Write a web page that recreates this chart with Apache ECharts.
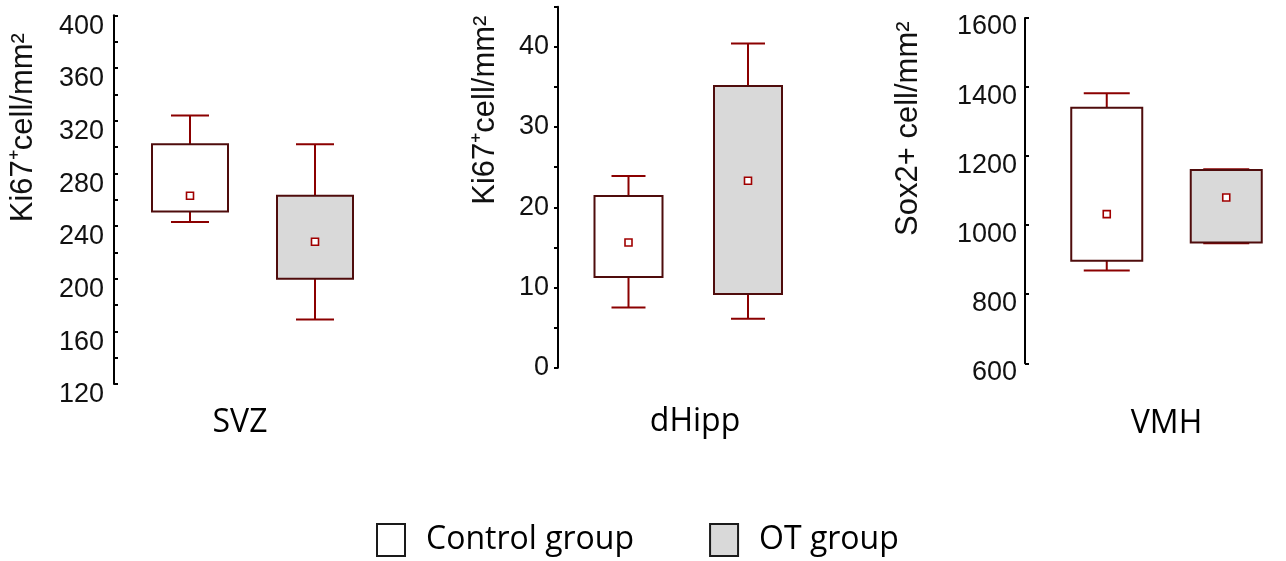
<!DOCTYPE html>
<html>
<head>
<meta charset="utf-8">
<script src="https://cdn.jsdelivr.net/npm/echarts@6/dist/echarts.min.js"></script>
<style>
html,body{margin:0;padding:0;background:#fff;}
#chart{width:1286px;height:561px;}
</style>
</head>
<body>
<div id="chart"></div>
<script>
// ---- data ----
const regions = ['SVZ', 'dHipp', 'VMH'];
const groups = ['Control group', 'OT group'];
const yNames = ['Ki67\u207Acell/mm\u00B2', 'Ki67\u207Acell/mm\u00B2', 'Sox2+ cell/mm\u00B2'];

// Control group: lower whisker, box bottom, box top, upper whisker, mean
const controlLow     = [243, 7.5, 869];
const controlBoxLow  = [251, 11.3, 897];
const controlBoxHigh = [302, 21.4, 1340];
const controlHigh    = [324, 23.9, 1382];
const controlMean    = [263, 15.6, 1032];

// OT group
const otLow     = [169, 6.1, 948];
const otBoxLow  = [200, 9.2, 950];
const otBoxHigh = [263, 35.1, 1160];
const otHigh    = [302, 40.4, 1162];
const otMean    = [228, 23.3, 1080];

// axis ranges
const yMin = [120, 0, 600];
const yMax = [400, 45, 1600];
const yTickStep = [20, 5, 200];
const yLabelStep = [40, 10, 200];

// ---- layout (pixels) ----
const grids = [
  {left: 127.5, top: 15.3, width: 250, height: 368.7},
  {left: 568.75, top: 6.7, width: 239, height: 361},
  {left: 1047, top: 18, width: 256, height: 345.3}
];
const axisOffset = [13.5, 10.75, 22];
const tickInside = [true, false, true];
const labelShift = [22, 0, 18];
const labelMargin = [10, 9, 8];
const nameGapY = [75, 57, 101];
const namePadY = [[0, 0, 0, 144], [0, 0, 0, 154], [0, 0, 0, 124]];
const nameGapX = [23, 38, 45];
const namePadX = [[0, 25, 0, 0], [0, 0, 0, 13.5], [0, 0, 0, 0]];
const boxW = [76, 68, 71];
const capW = [38, 34, 46];

const WHISKER = '#8b0000';
const BORDER = '#4f0c0c';
const MEANC = '#a00000';
const fills = ['#ffffff', '#d9d9d9'];

function makeRender(panel, fill) {
  return function (params, api) {
    const x = api.value(0);
    const lo = api.coord([x, api.value(1)]);
    const bLo = api.coord([x, api.value(2)]);
    const bHi = api.coord([x, api.value(3)]);
    const hi = api.coord([x, api.value(4)]);
    const mean = api.coord([x, api.value(5)]);
    const cx = lo[0];
    const bw = boxW[panel], cw = capW[panel];
    const ls = {stroke: WHISKER, lineWidth: 2};
    return {
      type: 'group',
      children: [
        {type: 'line', shape: {x1: cx, y1: bHi[1], x2: cx, y2: hi[1]}, style: ls},
        {type: 'line', shape: {x1: cx - cw / 2, y1: hi[1], x2: cx + cw / 2, y2: hi[1]}, style: ls},
        {type: 'line', shape: {x1: cx, y1: bLo[1], x2: cx, y2: lo[1]}, style: ls},
        {type: 'line', shape: {x1: cx - cw / 2, y1: lo[1], x2: cx + cw / 2, y2: lo[1]}, style: ls},
        {type: 'rect', shape: {x: cx - bw / 2, y: bHi[1], width: bw, height: bLo[1] - bHi[1]},
          style: {fill: fill, stroke: BORDER, lineWidth: 2}},
        {type: 'rect', shape: {x: mean[0] - 3.5, y: mean[1] - 3.5, width: 7, height: 7},
          style: {fill: '#fff', stroke: MEANC, lineWidth: 1.6}}
      ]
    };
  };
}

const xAxes = [], yAxes = [], series = [];
regions.forEach(function (r, i) {
  xAxes.push({
    type: 'category', gridIndex: i, data: groups,
    axisLine: {show: false}, axisTick: {show: false}, axisLabel: {show: false},
    splitLine: {show: false},
    name: r, nameLocation: 'middle', nameGap: nameGapX[i],
    nameTextStyle: {fontFamily: 'Open Sans', fontSize: 32, color: '#000', padding: namePadX[i]}
  });
  yAxes.push({
    type: 'value', gridIndex: i, min: yMin[i], max: yMax[i], interval: yTickStep[i],
    offset: axisOffset[i],
    axisLine: {show: true, lineStyle: {color: '#000', width: 2}},
    axisTick: {show: true, inside: tickInside[i], length: 4, lineStyle: {color: '#000', width: 2}},
    splitLine: {show: false},
    axisLabel: {
      color: '#111',
      margin: labelMargin[i],
      formatter: function (v) { return (Math.round(v) % yLabelStep[i] === 0) ? '{v|' + v + '}' : ''; },
      rich: {
        v: {fontFamily: 'Liberation Sans', fontSize: 27, color: '#111', padding: [labelShift[i], 0, 0, 0]}
      }
    },
    name: yNames[i], nameLocation: 'middle', nameGap: nameGapY[i],
    nameTextStyle: {fontFamily: 'Liberation Sans', fontSize: 31, color: '#111', padding: namePadY[i]}
  });
  series.push({
    name: groups[0], type: 'custom', xAxisIndex: i, yAxisIndex: i,
    renderItem: makeRender(i, fills[0]),
    encode: {x: 0, y: [1, 2, 3, 4, 5]},
    data: [[0, controlLow[i], controlBoxLow[i], controlBoxHigh[i], controlHigh[i], controlMean[i]]],
    silent: true, animation: false
  });
  series.push({
    name: groups[1], type: 'custom', xAxisIndex: i, yAxisIndex: i,
    renderItem: makeRender(i, fills[1]),
    encode: {x: 0, y: [1, 2, 3, 4, 5]},
    data: [[1, otLow[i], otBoxLow[i], otBoxHigh[i], otHigh[i], otMean[i]]],
    silent: true, animation: false
  });
});

const chart = echarts.init(document.getElementById('chart'), null, {renderer: 'canvas'});
chart.setOption({
  backgroundColor: '#fff',
  animation: false,
  grid: grids,
  xAxis: xAxes,
  yAxis: yAxes,
  legend: {
    left: 376, top: 523, padding: 0,
    icon: 'rect', itemWidth: 28, itemHeight: 32, itemGap: 75,
    selectedMode: false,
    textStyle: {fontFamily: 'Open Sans', fontSize: 32, color: '#000', padding: [0, 0, 0, 16]},
    data: [
      {name: groups[0], itemStyle: {color: fills[0], borderColor: '#1a1a1a', borderWidth: 2}},
      {name: groups[1], itemStyle: {color: fills[1], borderColor: '#1a1a1a', borderWidth: 2}}
    ]
  },
  series: series
});
</script>
</body>
</html>
